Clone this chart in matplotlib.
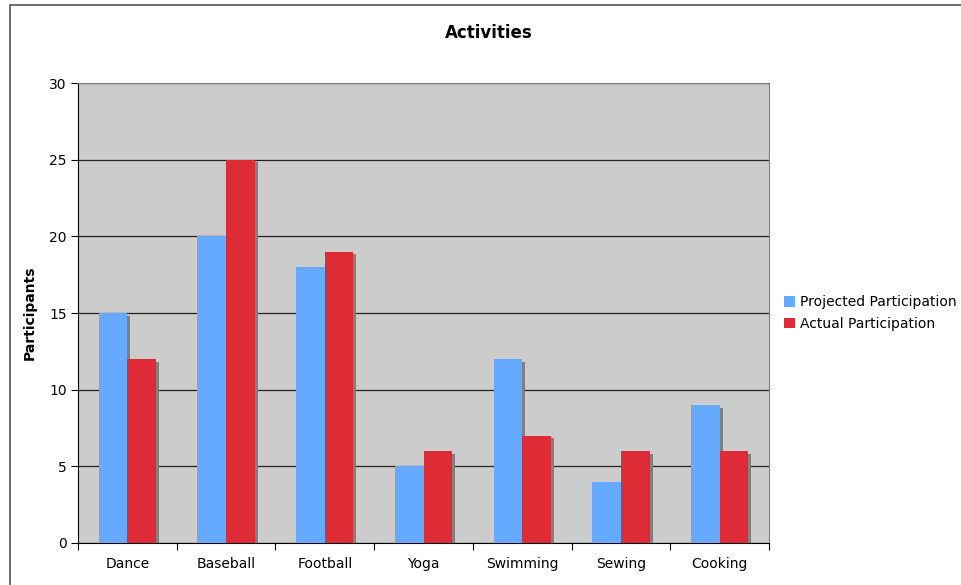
import numpy as np
import matplotlib.pyplot as plt
import matplotlib.patheffects as pe
from matplotlib.patches import Rectangle, Patch

activities = ['Dance', 'Baseball', 'Football', 'Yoga', 'Swimming', 'Sewing', 'Cooking']
projected = [15, 20, 18, 5, 12, 4, 9]
actual = [12, 25, 19, 6, 7, 6, 6]

blue = '#66AAFF'
red = '#DD2C36'
shadow = [pe.SimplePatchShadow(offset=(2.2, -1.8), shadow_rgbFace='#808080', alpha=1.0), pe.Normal()]

plt.rcParams['font.family'] = 'DejaVu Sans'
fig = plt.figure(figsize=(9.61, 5.85), dpi=100)
fig.patches.append(Rectangle((10 / 961, -0.1), 1.2, (585 - 5) / 585 + 0.1,
                             transform=fig.transFigure, fill=False,
                             edgecolor='#555555', linewidth=1.2))

ax = fig.add_axes([78 / 961, 42 / 585, 691 / 961, 460 / 585])
ax.set_facecolor('#CCCCCC')

x = np.arange(len(activities))
w = 0.29
b1 = ax.bar(x - w / 2, projected, w, color=blue, zorder=3)
b2 = ax.bar(x + w / 2, actual, w, color=red, zorder=3)
for bar in list(b1) + list(b2):
    bar.set_path_effects(shadow)

ax.set_xlim(-0.5, len(activities) - 0.5)
ax.set_ylim(0, 30)
ax.set_yticks(range(0, 31, 5))
ax.yaxis.grid(True, color='#222222', linewidth=0.9, zorder=1)
ax.set_axisbelow(True)

ax.set_xticks(x)
ax.set_xticklabels(activities, fontsize=10)
ax.set_xticks(np.arange(-0.5, len(activities)), minor=True)
ax.tick_params(axis='x', which='major', length=0, pad=10)
ax.tick_params(axis='x', which='minor', length=5, width=0.8, direction='out')
ax.tick_params(axis='y', length=5, width=0.8, direction='out', labelsize=10, pad=3)

for s in ['top', 'right']:
    ax.spines[s].set_color('#808080')
    ax.spines[s].set_linewidth(0.8)
for s in ['left', 'bottom']:
    ax.spines[s].set_color('black')
    ax.spines[s].set_linewidth(0.8)

ax.set_ylabel('Participants', fontsize=10, fontweight='bold', labelpad=9)
fig.text(489 / 961, 1 - 33 / 585, 'Activities', ha='center', va='center',
         fontsize=12, fontweight='bold')

handles = [Patch(facecolor=blue), Patch(facecolor=red)]
fig.legend(handles, ['Projected Participation', 'Actual Participation'],
           loc='center left', bbox_to_anchor=(778 / 961, 1 - 313 / 585),
           frameon=False, fontsize=10, handlelength=0.8, handleheight=0.8,
           handletextpad=0.4, labelspacing=0.55, borderaxespad=0)

fig.savefig('out.png', dpi=100)
